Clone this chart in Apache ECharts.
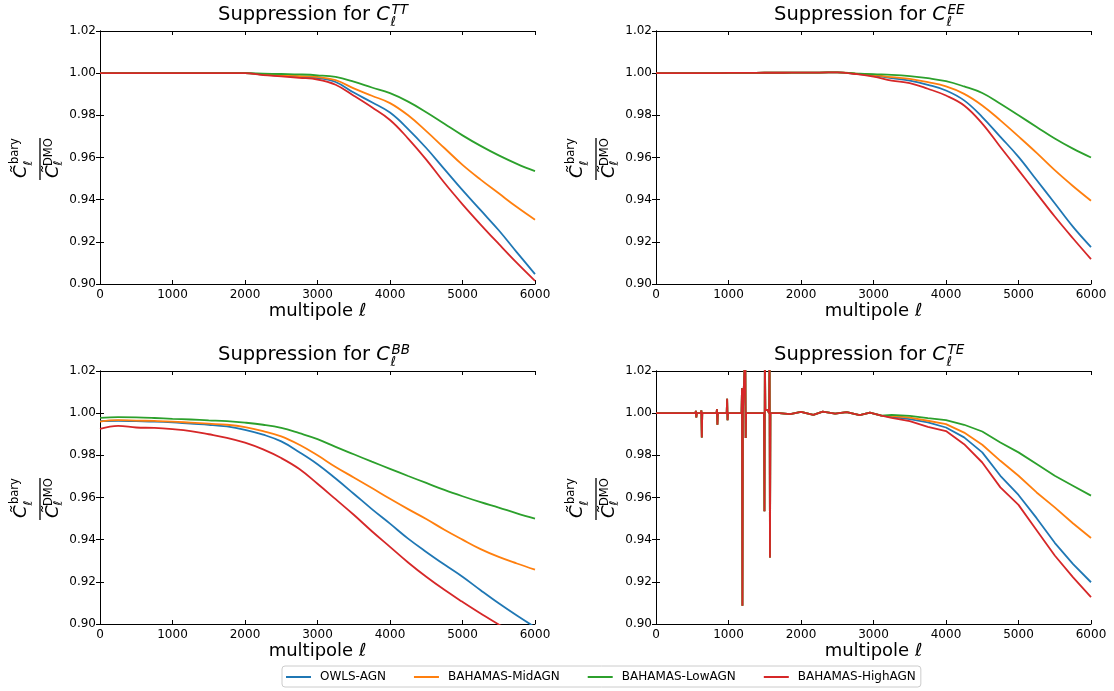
<!DOCTYPE html>
<html>
<head>
<meta charset="utf-8">
<title>Suppression for C_l</title>
<script src="https://cdn.jsdelivr.net/npm/echarts@6/dist/echarts.min.js"></script>
<style>
  html, body { margin: 0; padding: 0; background: #fff; }
  #chart { width: 1114px; height: 691px; }
</style>
</head>
<body>
<div id="chart"></div>
<script>
// multipole grid used by TT, EE and BB
const ell = [0, 250, 500, 750, 1000, 1250, 1500, 1750, 2000, 2250, 2500, 2750, 3000,
  3250, 3500, 3750, 4000, 4250, 4500, 4750, 5000, 5250, 5500, 5750, 6000];

const seriesNames = ['OWLS-AGN', 'BAHAMAS-MidAGN', 'BAHAMAS-LowAGN', 'BAHAMAS-HighAGN'];
const seriesColors = ['#1f77b4', '#ff7f0e', '#2ca02c', '#d62728'];

// TT
const ttOwls = [1, 1, 1, 1, 1, 1, 1, 1, 1, 0.9993, 0.9988, 0.9983, 0.9977, 0.9958, 0.9908, 0.9862, 0.9813, 0.9735, 0.9645, 0.9545, 0.9445, 0.9350, 0.9255, 0.9150, 0.9047];
const ttMid = [1, 1, 1, 1, 1, 1, 1, 1, 1, 0.9994, 0.9990, 0.9986, 0.9982, 0.9967, 0.9928, 0.9893, 0.9858, 0.9800, 0.9725, 0.9645, 0.9565, 0.9495, 0.9430, 0.9365, 0.9305];
const ttLow = [1, 1, 1, 1, 1, 1, 1, 1, 1, 0.9998, 0.9996, 0.9994, 0.9990, 0.9982, 0.9960, 0.9932, 0.9905, 0.9865, 0.9815, 0.9760, 0.9705, 0.9655, 0.9610, 0.9570, 0.9535];
const ttHigh = [1, 1, 1, 1, 1, 1, 1, 1, 1, 0.9991, 0.9985, 0.9978, 0.9970, 0.9945, 0.9893, 0.9838, 0.9778, 0.9690, 0.9590, 0.9480, 0.9378, 0.9282, 0.9190, 0.9100, 0.9015];

// EE
const eeOwls = [1, 1, 1, 1, 1.0001, 1.0001, 1.0002, 1.0002, 1.0003, 1.0003, 1.0004, 0.9997, 0.9990, 0.9976, 0.9965, 0.9945, 0.9918, 0.9871, 0.9792, 0.9698, 0.9603, 0.9493, 0.9383, 0.9272, 0.9175];
const eeMid = [1, 1, 1, 1, 1.0001, 1.0001, 1.0002, 1.0002, 1.0003, 1.0003, 1.0004, 0.9998, 0.9992, 0.9981, 0.9973, 0.9957, 0.9937, 0.9902, 0.9847, 0.9776, 0.9700, 0.9622, 0.9540, 0.9465, 0.9395];
const eeLow = [1, 1, 1, 1, 1.0001, 1.0001, 1.0002, 1.0002, 1.0003, 1.0003, 1.0004, 0.9999, 0.9995, 0.9992, 0.9986, 0.9976, 0.9962, 0.9937, 0.9906, 0.9855, 0.9800, 0.9745, 0.9690, 0.9642, 0.9600];
const eeHigh = [1, 1, 1, 1, 1.0001, 1.0001, 1.0002, 1.0002, 1.0003, 1.0003, 1.0004, 0.9996, 0.9984, 0.9965, 0.9953, 0.9926, 0.9894, 0.9847, 0.9761, 0.9650, 0.9540, 0.9430, 0.9320, 0.9217, 0.9118];

// BB
const bbOwls = [0.9962, 0.9964, 0.9962, 0.9960, 0.9956, 0.9950, 0.9945, 0.9937, 0.9921, 0.9898, 0.9866, 0.9815, 0.9758, 0.9690, 0.9618, 0.9545, 0.9476, 0.9405, 0.9342, 0.9282, 0.9224, 0.9160, 0.9098, 0.9040, 0.8985];
const bbMid = [0.9960, 0.9967, 0.9965, 0.9963, 0.9960, 0.9955, 0.9950, 0.9945, 0.9934, 0.9915, 0.9890, 0.9850, 0.9800, 0.9745, 0.9695, 0.9645, 0.9594, 0.9545, 0.9498, 0.9447, 0.9400, 0.9355, 0.9318, 0.9287, 0.9258];
const bbLow = [0.9978, 0.9981, 0.9980, 0.9977, 0.9973, 0.9970, 0.9966, 0.9962, 0.9955, 0.9945, 0.9930, 0.9905, 0.9877, 0.9840, 0.9805, 0.9770, 0.9736, 0.9702, 0.9669, 0.9636, 0.9606, 0.9578, 0.9552, 0.9525, 0.9500];
const bbHigh = [0.9926, 0.9940, 0.9932, 0.9930, 0.9924, 0.9915, 0.9900, 0.9883, 0.9860, 0.9828, 0.9787, 0.9735, 0.9665, 0.9592, 0.9518, 0.9440, 0.9366, 0.9292, 0.9224, 0.9162, 0.9105, 0.9050, 0.8998, 0.8955, 0.8910];

// TE: finer grid because of the narrow spikes at low multipoles
const teEll = [0, 250, 500, 545, 550, 556, 562, 620, 626, 632, 638, 835, 841, 847, 853,
  975, 981, 987, 993, 1180, 1186, 1192, 1198, 1225, 1231, 1237, 1243,
  1490, 1496, 1502, 1508, 1540, 1560, 1566, 1572, 1578,
  1700, 1850, 2000, 2170, 2300, 2470, 2630, 2810, 2950, 3110,
  3250, 3500, 3750, 4000, 4250, 4500, 4750, 5000, 5250, 5500, 5750, 6000];
// same for every model up to l ~ 3100
const teShared = [1, 1, 1, 1, 1.0011, 0.998, 1, 1, 1.0013, 0.9885, 1, 1, 1.0019, 0.9945, 1,
  1, 1.0068, 0.9967, 1, 1, 1.0118, 0.9087, 1, 1, 1.03, 0.9882, 1,
  1, 0.9535, 1.03, 1.0015, 1.0015, 1, 1.03, 0.9315, 1,
  1, 0.9995, 1.0006, 0.9992, 1.0007, 0.9998, 1.0005, 0.9991, 1.0002, 0.9988];
const teOwlsTail = [0.9982, 0.9972, 0.9956, 0.9932, 0.9885, 0.9814, 0.9703, 0.9612, 0.9502, 0.9385, 0.9285, 0.9198];
const teMidTail = [0.9987, 0.9979, 0.9964, 0.9948, 0.9908, 0.9850, 0.9774, 0.9703, 0.9624, 0.9553, 0.9478, 0.9408];
const teLowTail = [0.9992, 0.9987, 0.9976, 0.9967, 0.9945, 0.9913, 0.9861, 0.9814, 0.9759, 0.9703, 0.9656, 0.9609];
const teHighTail = [0.9978, 0.9962, 0.9935, 0.9915, 0.9853, 0.9766, 0.9648, 0.9565, 0.9445, 0.9325, 0.9222, 0.9127];

const xTicks = { min: 0, max: 6000, interval: 1000 };
const yTicks = { min: 0.90, max: 1.02, interval: 0.02 };

const FONT = '"DejaVu Sans", sans-serif';
const W = 435, H = 253;

const panels = [
  { left: 100, top: 31, sup: 'TT', x: ell, ys: [ttOwls, ttMid, ttLow, ttHigh], smooth: 0.4 },
  { left: 656, top: 31, sup: 'EE', x: ell, ys: [eeOwls, eeMid, eeLow, eeHigh], smooth: 0.4 },
  { left: 100, top: 371, sup: 'BB', x: ell, ys: [bbOwls, bbMid, bbLow, bbHigh], smooth: 0.4 },
  { left: 656, top: 371, sup: 'TE', x: teEll, smooth: false,
    ys: [teShared.concat(teOwlsTail), teShared.concat(teMidTail), teShared.concat(teLowTail), teShared.concat(teHighTail)] }
];

const axisLine = { show: true, lineStyle: { color: '#000', width: 1 } };
const tick = { show: true, inside: true, length: 4, lineStyle: { color: '#000', width: 1 } };

const grids = [], xAxes = [], yAxes = [], series = [], graphics = [];

const ctx = document.createElement('canvas').getContext('2d');
function textWidth(t, font) { ctx.font = font; return ctx.measureText(t).width; }

function txt(text, x, y, font, align) {
  return {
    type: 'text', x: x, y: y, silent: true,
    style: { text: text, font: font, fill: '#000', textAlign: align || 'left', textVerticalAlign: 'middle' }
  };
}

function panelTitle(p) {
  const mainFont = '19.5px ' + FONT;
  const cFont = 'italic 19.5px ' + FONT;
  const sFont = 'italic 13.5px ' + FONT;
  const main = 'Suppression for ';
  const x0 = p.left + 118;
  const xc = x0 + textWidth(main, mainFont);
  const xs = xc + textWidth('C', cFont) + 0.5;
  return [
    txt(main, x0, p.top - 16, mainFont),
    txt('C', xc, p.top - 16, cFont),
    txt('\u2113', xs, p.top - 9, sFont),
    txt(p.sup, xs + 1, p.top - 21, sFont)
  ];
}

// rotated fraction  C~bary / C~DMO
function fracLabel(gx, gy) {
  const cFont = 'italic 18px ' + FONT;
  const lFont = 'italic 12px ' + FONT;
  const sFont = '11.5px ' + FONT;
  return {
    type: 'group', x: gx, y: gy, rotation: Math.PI / 2, silent: true,
    children: [
      { type: 'line', shape: { x1: -22, y1: 0, x2: 20, y2: 0 }, style: { stroke: '#000', lineWidth: 1.3 } },
      txt('C\u0303', -20, -18.5, cFont),
      txt('\u2113', -7.5, -11.5, lFont),
      txt('bary', -6, -24.5, sFont),
      txt('C\u0303', -20, 13, cFont),
      txt('\u2113', -7.5, 19, lFont),
      txt('DMO', -8, 9, sFont)
    ]
  };
}

panels.forEach(function (p, k) {
  grids.push({ left: p.left, top: p.top, width: W, height: H });
  xAxes.push({
    type: 'value', gridIndex: k, position: 'bottom', ...xTicks,
    axisLine: axisLine, axisTick: tick, splitLine: { show: false },
    axisLabel: { color: '#000', fontFamily: FONT, fontSize: 12, margin: 5,
      formatter: function (v) { return String(v); } },
    name: '{a|multipole }{b|\u2113}', nameLocation: 'middle', nameGap: 18,
    nameTextStyle: { rich: {
      a: { fontFamily: FONT, fontSize: 18, color: '#000' },
      b: { fontFamily: FONT, fontSize: 18, fontStyle: 'italic', color: '#000' }
    } }
  });
  xAxes.push({
    type: 'value', gridIndex: k, position: 'top', ...xTicks,
    axisLine: axisLine, axisTick: tick, splitLine: { show: false }, axisLabel: { show: false }
  });
  yAxes.push({
    type: 'value', gridIndex: k, position: 'left', ...yTicks,
    axisLine: axisLine, axisTick: tick, splitLine: { show: false },
    axisLabel: { color: '#000', fontFamily: FONT, fontSize: 12, margin: 4,
      formatter: function (v) { return v.toFixed(2); } }
  });
  yAxes.push({
    type: 'value', gridIndex: k, position: 'right', ...yTicks,
    axisLine: axisLine, axisTick: tick, splitLine: { show: false }, axisLabel: { show: false }
  });

  p.ys.forEach(function (vals, i) {
    series.push({
      type: 'line', name: seriesNames[i],
      xAxisIndex: 2 * k, yAxisIndex: 2 * k,
      data: p.x.map(function (x, j) { return [x, vals[j]]; }),
      showSymbol: false, symbol: 'none',
      smooth: p.smooth, clip: true,
      lineStyle: { width: 1.8, color: seriesColors[i] },
      itemStyle: { color: seriesColors[i] },
      emphasis: { disabled: true }
    });
  });

  graphics.push(...panelTitle(p));
  graphics.push(fracLabel(p.left - 60, p.top + 127));
});

const chart = echarts.init(document.getElementById('chart'), null, { renderer: 'canvas' });
chart.setOption({
  animation: false,
  backgroundColor: '#fff',
  grid: grids,
  xAxis: xAxes,
  yAxis: yAxes,
  series: series,
  graphic: graphics,
  legend: {
    data: seriesNames,
    left: 282, top: 666,
    orient: 'horizontal',
    icon: 'rect', itemWidth: 25, itemHeight: 2, itemGap: 28,
    padding: [5, 5, 4, 4],
    borderColor: '#cccccc', borderWidth: 1, borderRadius: 3,
    textStyle: { fontFamily: FONT, fontSize: 12, color: '#000', padding: [0, 0, 0, 4] }
  }
});
</script>
</body>
</html>
